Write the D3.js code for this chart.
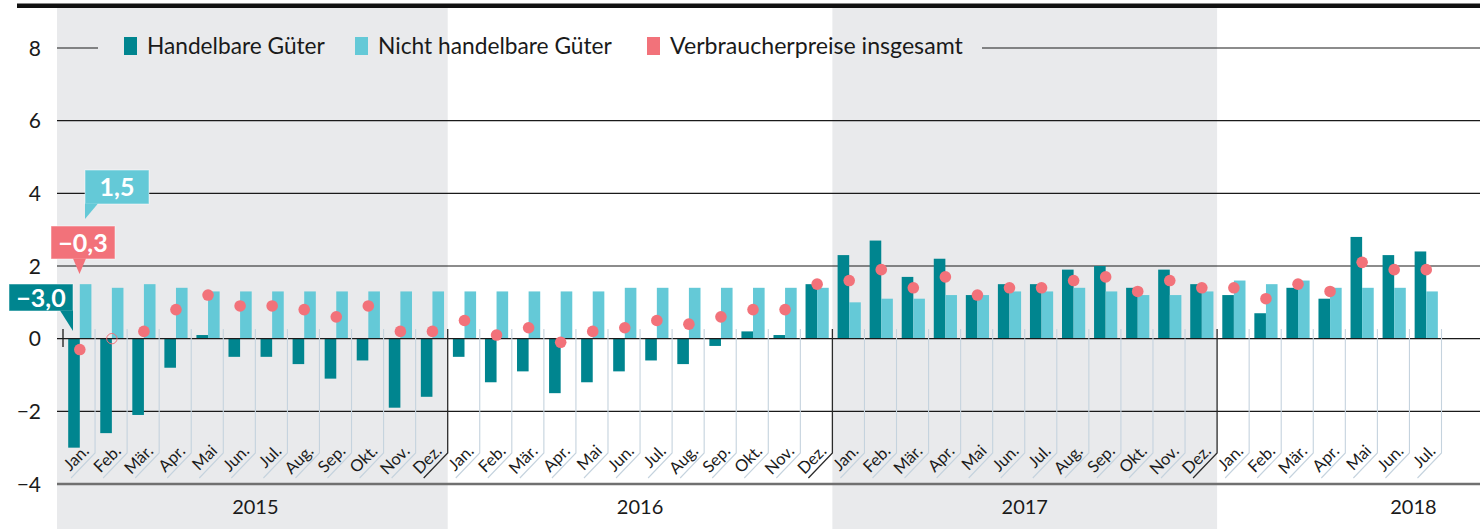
<!DOCTYPE html>
<html><head><meta charset="utf-8">
<script src="https://cdn.jsdelivr.net/npm/d3@7"></script>
<style>
html,body{margin:0;padding:0;background:#fff;}
svg{display:block;font-family:Lato,"Open Sans",sans-serif;}
</style></head>
<body><svg id="c" width="1480" height="529"></svg>
<script>
const years = ["2015","2016","2017","2018"];
const monthNames = ["Jan.","Feb.","Mär.","Apr.","Mai","Jun.","Jul.","Aug.","Sep.","Okt.","Nov.","Dez."];
const monthsPerYear = [12,12,12,7];
const handelbar = [
  -3.0,-2.6,-2.1,-0.8,0.1,-0.5,-0.5,-0.7,-1.1,-0.6,-1.9,-1.6,
  -0.5,-1.2,-0.9,-1.5,-1.2,-0.9,-0.6,-0.7,-0.2,0.2,0.1,1.5,
  2.3,2.7,1.7,2.2,1.2,1.5,1.5,1.9,2.0,1.4,1.9,1.5,
  1.2,0.7,1.4,1.1,2.8,2.3,2.4];
const nichtHandelbar = [
  1.5,1.4,1.5,1.4,1.3,1.3,1.3,1.3,1.3,1.3,1.3,1.3,
  1.3,1.3,1.3,1.3,1.3,1.4,1.4,1.4,1.4,1.4,1.4,1.4,
  1.0,1.1,1.1,1.2,1.2,1.3,1.3,1.4,1.3,1.2,1.2,1.3,
  1.6,1.5,1.6,1.4,1.4,1.4,1.3];
const insgesamt = [
  -0.3,0.0,0.2,0.8,1.2,0.9,0.9,0.8,0.6,0.9,0.2,0.2,
  0.5,0.1,0.3,-0.1,0.2,0.3,0.5,0.4,0.6,0.8,0.8,1.5,
  1.6,1.9,1.4,1.7,1.2,1.4,1.4,1.6,1.7,1.3,1.6,1.4,
  1.4,1.1,1.5,1.3,2.1,1.9,1.9];
const hollowIndex = [1];
const yTicks = [8,6,4,2,0,-2,-4];
const legendLabels = ["Handelbare Güter","Nicht handelbare Güter","Verbraucherpreise insgesamt"];

const C_DARK = "#00858f", C_LIGHT = "#64c9d7", C_PINK = "#f2727a", C_BAND = "#e9eaec";

// build month table
const months = [];
years.forEach((y, yi) => { for (let m = 0; m < monthsPerYear[yi]; m++) months.push({year: y, yi, m, name: monthNames[m]}); });
months.forEach((d, i) => { d.i = i; d.h = handelbar[i]; d.n = nichtHandelbar[i]; d.t = insgesamt[i]; });

const svg = d3.select("#c");
const x = d3.scaleBand().domain(d3.range(months.length)).range([63, 1441.5]).paddingInner(0).paddingOuter(0);
const step = x.step();
const y = d3.scaleLinear().domain([-4, 8]).range([484, 48]);
const fmt = v => (v < 0 ? "\u2212" : "") + d3.format(".1f")(Math.abs(v)).replace(".", ",");

// year segments
const yearStart = []; let acc = 0;
years.forEach((yy, yi) => { yearStart.push(acc); acc += monthsPerYear[yi]; });

// bands (2015, 2017)
[0, 2].forEach(yi => {
  const x0 = yi === 0 ? 57 : x(yearStart[yi]);
  const x1 = x(yearStart[yi]) + monthsPerYear[yi] * step;
  svg.append("rect").attr("x", x0).attr("y", 8).attr("width", x1 - x0).attr("height", 529 - 8).attr("fill", C_BAND);
});

// gridlines
yTicks.filter(t => t !== -4 && t !== 0 && t !== 8).forEach(t => {
  svg.append("line").attr("x1", 57).attr("x2", 1480).attr("y1", y(t)).attr("y2", y(t)).attr("stroke", "#1a1a1a").attr("stroke-width", 1.1);
});
// 8 line with legend gap
svg.append("line").attr("x1", 57).attr("x2", 98).attr("y1", y(8)).attr("y2", y(8)).attr("stroke", "#1a1a1a").attr("stroke-width", 1.1);
svg.append("line").attr("x1", 982).attr("x2", 1480).attr("y1", y(8)).attr("y2", y(8)).attr("stroke", "#1a1a1a").attr("stroke-width", 1.1);
// bottom axis
svg.append("line").attr("x1", 57).attr("x2", 1480).attr("y1", y(-4)).attr("y2", y(-4)).attr("stroke", "#707070").attr("stroke-width", 2.5);

// tick labels
svg.append("g").selectAll("text").data(yTicks).join("text")
  .attr("x", 41).attr("y", d => y(d)).attr("dy", "0.36em").attr("text-anchor", "end")
  .attr("font-size", 21).attr("fill", "#1a1a1a")
  .text(d => (d < 0 ? "\u2212" : "") + Math.abs(d));

// bars
const bw = 11.6;
svg.append("g").selectAll("rect").data(months).join("rect")
  .attr("x", d => x(d.i) + 5.2).attr("width", bw)
  .attr("y", d => y(Math.max(0, d.h))).attr("height", d => Math.abs(y(d.h) - y(0)))
  .attr("fill", C_DARK);
svg.append("g").selectAll("rect").data(months).join("rect")
  .attr("x", d => x(d.i) + 5.2 + bw).attr("width", bw)
  .attr("y", d => y(Math.max(0, d.n))).attr("height", d => Math.abs(y(d.n) - y(0)))
  .attr("fill", C_LIGHT);

// zero line
svg.append("line").attr("x1", 57).attr("x2", 1480).attr("y1", y(0)).attr("y2", y(0)).attr("stroke", "#1a1a1a").attr("stroke-width", 1.3);

// separators
const sepTop = 329, sepBot = 453, diagDx = 24, diagDy = 25;
const sepG = svg.append("g");
months.forEach(d => {
  const xr = x(d.i) + step;
  const yearEnd = (d.m === 11);
  const col = yearEnd ? "#2b2b2b" : "#c5d3de";
  sepG.append("path")
    .attr("d", `M${xr},${sepTop}V${sepBot}L${xr - diagDx},${sepBot + diagDy}`)
    .attr("fill", "none").attr("stroke", col).attr("stroke-width", yearEnd ? 1.3 : 1.1);
});
sepG.append("line").attr("x1", x(0)).attr("x2", x(0)).attr("y1", sepTop).attr("y2", 347).attr("stroke", "#1a1a1a").attr("stroke-width", 1.3);

// month labels
svg.append("g").selectAll("text").data(months).join("text")
  .attr("transform", d => `translate(${x(d.i) + step - 5},${sepBot - 1}) rotate(-45)`)
  .attr("text-anchor", "end").attr("font-size", 16.5).attr("fill", "#1a1a1a")
  .text(d => d.name);

// year labels
svg.append("g").selectAll("text").data(years).join("text")
  .attr("x", (d, i) => x(yearStart[i]) + 6 * step + (monthsPerYear[i] < 12 ? 4 : 0))
  .attr("y", 514).attr("text-anchor", "middle").attr("font-size", 20).attr("fill", "#1a1a1a")
  .text(d => d);

// dots
svg.append("g").selectAll("circle").data(months).join("circle")
  .attr("cx", d => x(d.i) + 5.2 + bw).attr("cy", d => y(d.t)).attr("r", d => hollowIndex.includes(d.i) ? 5.2 : 5.8)
  .attr("fill", d => hollowIndex.includes(d.i) ? "none" : C_PINK)
  .attr("stroke", d => hollowIndex.includes(d.i) ? C_PINK : "none").attr("stroke-width", 1);

// callouts
function callout(rx, ry, rw, rh, tri, color, label) {
  const g = svg.append("g");
  g.append("rect").attr("x", rx).attr("y", ry).attr("width", rw).attr("height", rh).attr("fill", color)
    .attr("stroke", "#ffffff").attr("stroke-opacity", 0.5).attr("stroke-width", 1);
  g.append("path").attr("d", "M" + tri.map(p => p.join(",")).join("L") + "Z").attr("fill", color);
  g.append("text").attr("x", rx + rw / 2).attr("y", ry + rh / 2).attr("dy", "0.36em").attr("text-anchor", "middle")
    .attr("font-size", 25).attr("font-weight", 700).attr("fill", "#fff").text(label);
}
callout(85, 170, 64, 34, [[85, 203.5], [85, 219], [98, 203.5]], C_LIGHT, fmt(nichtHandelbar[0]));
callout(51, 226, 64, 33, [[73, 258.5], [86, 258.5], [79.5, 274]], C_PINK, fmt(insgesamt[0]));
callout(9, 284, 64, 27, [[60, 310.5], [73, 310.5], [73, 331]], C_DARK, fmt(handelbar[0]));

// legend
const legX = [124, 355, 647];
const legCol = [C_DARK, C_LIGHT, C_PINK];
const legW = [178, 234, 293];
legendLabels.forEach((lab, i) => {
  svg.append("rect").attr("x", legX[i]).attr("y", 37).attr("width", 13).attr("height", 18).attr("fill", legCol[i]);
  const t = svg.append("text").attr("x", legX[i] + 23).attr("y", 54).attr("font-size", 22).attr("fill", "#1a1a1a").text(lab);
  const w = t.node().getComputedTextLength();
  t.attr("font-size", 22 * legW[i] / w);
});

// top rule
svg.append("rect").attr("x", 17).attr("y", 3.5).attr("width", 1463).attr("height", 4.5).attr("fill", "#111");
</script></body></html>
